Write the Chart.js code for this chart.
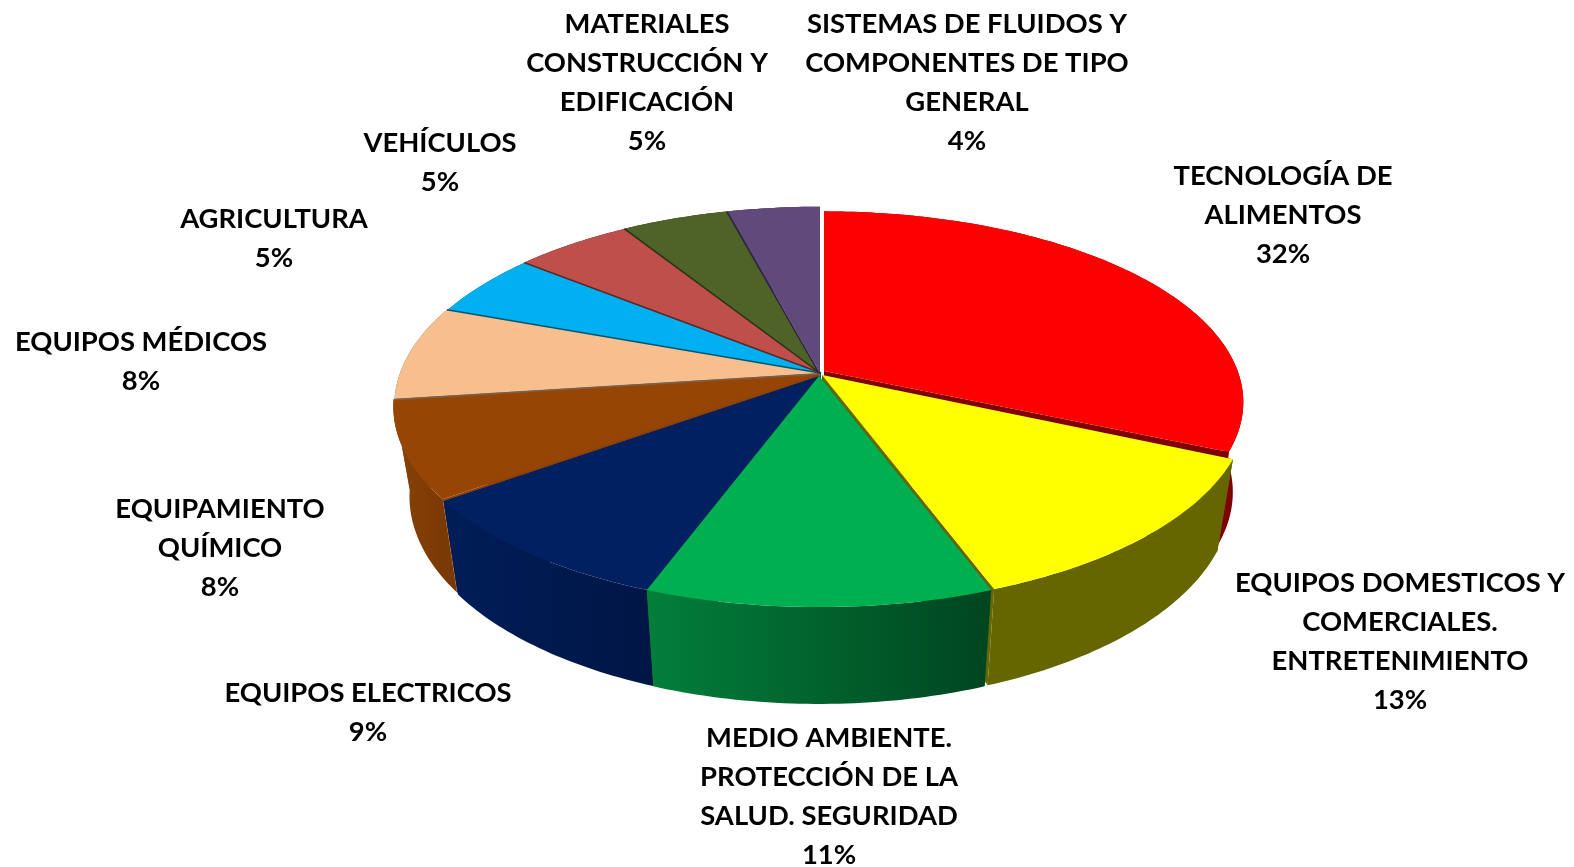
<!DOCTYPE html>
<html>
<head>
<meta charset="utf-8">
<title>Sectores</title>
<script src="https://cdn.jsdelivr.net/npm/chart.js@4/dist/chart.umd.min.js"></script>
<style>
  html, body { margin: 0; padding: 0; background: #fff; }
  canvas { display: block; }
</style>
</head>
<body>
<canvas id="pieChart" width="1574" height="867"></canvas>
<script>
// data
const categories = [
  ['TECNOLOGÍA DE', 'ALIMENTOS'],
  ['EQUIPOS DOMESTICOS Y', 'COMERCIALES.', 'ENTRETENIMIENTO'],
  ['MEDIO AMBIENTE.', 'PROTECCIÓN DE LA', 'SALUD. SEGURIDAD'],
  ['EQUIPOS ELECTRICOS'],
  ['EQUIPAMIENTO', 'QUÍMICO'],
  ['EQUIPOS MÉDICOS'],
  ['AGRICULTURA'],
  ['VEHÍCULOS'],
  ['MATERIALES', 'CONSTRUCCIÓN Y', 'EDIFICACIÓN'],
  ['SISTEMAS DE FLUIDOS Y', 'COMPONENTES DE TIPO', 'GENERAL']
];
const shares = [31.7, 12.7, 11.3, 9.4, 7.9, 7.7, 5.2, 5.3, 4.8, 4.1];

// styles
const topColors = ['#FF0000', '#FFFF00', '#00B050', '#002060', '#964505', '#F7BE8E', '#00B0F0', '#BE4F4B', '#4F6228', '#604A7B'];
const wallColors = [
  ['#7F0000', '#7F0000'], ['#666600', '#666600'], ['#027F3A', '#004520'], ['#001D58', '#001645'],
  ['#8A4106', '#7A3A05'], ['#7B5F47', '#7B5F47'], ['#005878', '#005878'], ['#5F2725', '#5F2725'],
  ['#273114', '#273114'], ['#30253D', '#30253D']
];

// layout
const sliceShift = [[6, -2], [4, 2], [1, 3], [2, 3], [1, 1], [2, 0], [3, 0], [2, 0], [1, 0], [2, 0]];
const sliceScale = [[0.985, 0.96], [1, 1], [1, 1], [1, 1], [1, 1], [1, 1], [1, 1], [1, 1], [1, 1], [1, 1]];
const sliceLowX = [0.975, 0.962, 0.962, 0.962, 0.962, 0.962, 0.962, 0.962, 0.962, 0.962];
const labelCenterX = [1283, 1400, 829, 368, 220, 141, 274, 440, 647, 967];
const labelTopY = [176, 583, 738, 693, 509, 342, 219, 143, 24, 24];
const lineHeight = 39;
const backToFront = [9, 8, 7, 6, 5, 0, 4, 1, 3, 2];
const disc = { cx: 818, cy: 373, a: 420, b: 193.4, k: 0.163, lowY: 1.034, depth: 89 };

function project(i, theta, r, low) {
  const u = r * Math.sin(theta);
  const v = -r * Math.cos(theta);
  const w = 1 - disc.k * v;
  const [dx, dy] = sliceShift[i];
  const [sx, sy] = sliceScale[i];
  return {
    x: disc.cx + dx + disc.a * sx * (low ? sliceLowX[i] : 1) * u / w,
    y: disc.cy + dy + (low ? disc.depth : 0) + disc.b * sy * (low ? disc.lowY : 1) * v / w
  };
}

function rimPath(ctx, i, from, to, low, first) {
  const steps = Math.max(8, Math.ceil(Math.abs(to - from) * 60));
  for (let s = 0; s <= steps; s++) {
    const p = project(i, from + (to - from) * s / steps, 1, low);
    if (first && s === 0) ctx.moveTo(p.x, p.y);
    else ctx.lineTo(p.x, p.y);
  }
}

function drawPrism(ctx, i, from, to) {
  const apexTop = project(i, 0, 0, false);
  const apexLow = project(i, 0, 0, true);
  [from, to].forEach(theta => {
    const top = project(i, theta, 1, false);
    const low = project(i, theta, 1, true);
    ctx.beginPath();
    ctx.moveTo(apexTop.x, apexTop.y);
    ctx.lineTo(top.x, top.y);
    ctx.lineTo(low.x, low.y);
    ctx.lineTo(apexLow.x, apexLow.y);
    ctx.closePath();
    ctx.fillStyle = wallColors[i][0];
    ctx.fill();
  });

  const xs = [];
  for (let s = 0; s <= 20; s++) xs.push(project(i, from + (to - from) * s / 20, 1, false).x);
  const grad = ctx.createLinearGradient(Math.min(...xs), 0, Math.max(...xs), 0);
  grad.addColorStop(0, wallColors[i][0]);
  grad.addColorStop(1, wallColors[i][1]);
  ctx.beginPath();
  rimPath(ctx, i, from, to, false, true);
  rimPath(ctx, i, to, from, true, false);
  ctx.closePath();
  ctx.fillStyle = grad;
  ctx.fill();
}

function drawTop(ctx, i, from, to) {
  const apex = project(i, 0, 0, false);
  ctx.beginPath();
  ctx.moveTo(apex.x, apex.y);
  rimPath(ctx, i, from, to, false, false);
  ctx.closePath();
  ctx.fillStyle = topColors[i];
  ctx.fill();
}

// the pie's own arcs give the angles, this only draws them tilted
const tiltedPie = {
  id: 'tiltedPie',
  beforeDatasetDraw(chart, args) {
    const { ctx } = chart;
    const arcs = args.meta.data;
    const range = i => [arcs[i].startAngle + Math.PI / 2, arcs[i].endAngle + Math.PI / 2];
    ctx.save();
    backToFront.forEach(i => drawPrism(ctx, i, ...range(i)));
    [9, 8, 7, 6, 5, 4, 3, 0, 1, 2].forEach(i => drawTop(ctx, i, ...range(i)));
    // thin dark seams where the small back slices meet
    [4, 5, 6, 7, 8].forEach(i => {
      const apex = project(i, 0, 0, false);
      const end = project(i, range(i)[1], 1, false);
      ctx.beginPath();
      ctx.moveTo(apex.x, apex.y);
      ctx.lineTo(end.x, end.y);
      ctx.strokeStyle = wallColors[i + 1][0];
      ctx.lineWidth = 1.5;
      ctx.stroke();
    });
    ctx.restore();
    return false;
  },
  afterDraw(chart) {
    const { ctx } = chart;
    ctx.save();
    ctx.fillStyle = '#000';
    ctx.font = 'bold 27.4px Lato';
    ctx.textAlign = 'center';
    ctx.textBaseline = 'middle';
    categories.forEach((lines, i) => {
      const text = [...lines, Math.round(shares[i]) + '%'];
      text.forEach((line, n) => ctx.fillText(line, labelCenterX[i], labelTopY[i] + n * lineHeight));
    });
    ctx.restore();
  }
};

new Chart(document.getElementById('pieChart'), {
  type: 'pie',
  data: {
    labels: categories.map(c => c.join(' ')),
    datasets: [{ data: shares, backgroundColor: topColors, borderWidth: 0 }]
  },
  options: {
    responsive: false,
    animation: false,
    plugins: { legend: { display: false }, tooltip: { enabled: false } }
  },
  plugins: [tiltedPie]
});
</script>
</body>
</html>
